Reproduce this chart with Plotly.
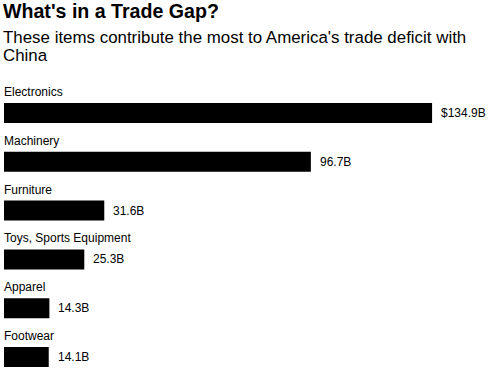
import plotly.graph_objects as go

categories = ["Electronics", "Machinery", "Furniture", "Toys, Sports Equipment", "Apparel", "Footwear"]
values = [134.9, 96.7, 31.6, 25.3, 14.3, 14.1]
value_labels = ["$134.9B", "96.7B", "31.6B", "25.3B", "14.3B", "14.1B"]

FONT = "Liberation Sans, Arial, Helvetica, sans-serif"
TOP, H = 80, 295

def py(Y):
    return 1 - (Y - TOP) / H

fig = go.Figure(go.Bar(
    x=values, y=categories, orientation="h",
    marker=dict(color="#000000", line=dict(width=0)),
    hoverinfo="skip",
))

ann = []
for c, v, t in zip(categories, values, value_labels):
    ann.append(dict(x=0, y=c, xref="x", yref="y", text=c, showarrow=False,
                    xanchor="left", yanchor="middle", xshift=-2, yshift=21,
                    font=dict(family=FONT, size=12, color="#000")))
    ann.append(dict(x=v, y=c, xref="x", yref="y", text=t, showarrow=False,
                    xanchor="left", yanchor="middle", xshift=7,
                    font=dict(family=FONT, size=12, color="#000")))

ann.append(dict(x=0, y=py(11), xref="paper", yref="paper", text="<b>What's in a Trade Gap?</b>",
                showarrow=False, xanchor="left", yanchor="middle", xshift=-3,
                font=dict(family=FONT, size=19.6, color="#000")))
ann.append(dict(x=0, y=py(37.5), xref="paper", yref="paper",
                text="These items contribute the most to America's trade deficit with",
                showarrow=False, xanchor="left", yanchor="middle", xshift=-3,
                font=dict(family=FONT, size=16.9, color="#000")))
ann.append(dict(x=0, y=py(56), xref="paper", yref="paper", text="China",
                showarrow=False, xanchor="left", yanchor="middle", xshift=-3,
                font=dict(family=FONT, size=16.9, color="#000")))

fig.update_layout(
    width=489, height=375,
    margin=dict(l=4, r=9, t=TOP, b=0),
    paper_bgcolor="white", plot_bgcolor="white",
    showlegend=False, bargap=0.59,
    xaxis=dict(visible=False, range=[0, 150], fixedrange=True),
    yaxis=dict(visible=False, categoryorder="array", categoryarray=categories,
               range=[5.369, -0.676], fixedrange=True),
    annotations=ann,
)

fig.write_html("out.html", config={"displayModeBar": False},
               post_script="document.body.style.margin='0';document.body.style.overflow='hidden';")
